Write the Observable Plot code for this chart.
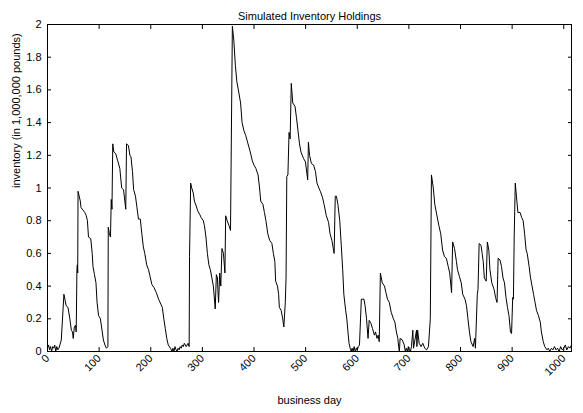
<!DOCTYPE html>
<html>
<head>
<meta charset="utf-8">
<script src="https://cdn.jsdelivr.net/npm/d3@7"></script>
<script src="https://cdn.jsdelivr.net/npm/@observablehq/plot@0.6"></script>
<style>
  html, body { margin: 0; padding: 0; background: #fff; }
</style>
</head>
<body>
<div id="chart"></div>
<script>
const title = "Simulated Inventory Holdings";
const xLabel = "business day";
const yLabel = "inventory (in 1,000,000 pounds)";
const xTicks = [0, 100, 200, 300, 400, 500, 600, 700, 800, 900, 1000];
const yTicks = [0, 0.2, 0.4, 0.6, 0.8, 1, 1.2, 1.4, 1.6, 1.8, 2];

const days = [
  0,2,4,6,8,10,12,14,16,18,20,22,24,26.7,31.8,36.1,39.7,43.3,46.2,48.4,49.8,52,54.2,55.6,57,57.8,58.5,59.2,
  61.4,63.5,65,70,72.2,75.1,77.3,79.4,83.8,86.6,88.1,91,93.9,96,98.9,102.5,104.7,108.3,111.2,114.1,117,117.7,
  119.9,122,123.5,124.9,126.4,128.5,132.1,135.7,140.1,143.7,147.3,151.6,153.1,156.7,159.6,161.7,164.6,166.8,
  170.4,173.3,176.2,179.8,182.7,185.6,188.4,192.1,195.7,198.6,202.2,206.5,210.8,215.2,219.5,222.4,225.3,228.2,
  231,233.9,238.3,241.2,243,245,247,249,251,253,255,257,259,261,263,265,268.6,272.2,274.4,275.1,277.3,279.4,
  282.3,284.5,288.1,291,294.6,297.5,301.8,304,306.9,309.7,312.6,315.5,318.4,321.3,324.9,327.1,329.2,330,331.4,
  333.6,335.7,337.9,340.8,343.7,345.1,348,351.6,354.5,358.1,361,363.9,366.8,369.7,374,376.9,380.5,384.1,388.4,
  392.8,396.4,400,403.6,407.9,410.8,413,417.3,420.2,423.1,426.7,430.3,434.7,437.5,440.4,441.9,445.5,447.7,449.1,
  452.7,455.6,457.8,460.6,462.1,463.5,465.7,467.9,470,472.2,475.1,479.4,482.3,485.2,488.1,491,496,499.6,504,
  505.4,507.6,511.2,515.5,519.1,522,525.6,528.5,532.9,535.7,540.1,544.4,547.3,550.9,555.2,557.4,559.6,562.5,
  566.1,569,571.8,574,577.6,579.8,582,584.1,586.3,588.4,590,592,594,596,598,600,602,604.3,607.9,613,615.2,618,
  620.9,623.1,626.7,629.6,633.2,635.4,638.3,640.4,642.6,644.8,648.4,652.7,655.6,658.5,662.1,665.7,670,672.9,
  675.8,678.7,680.1,681.6,683,687.4,691,693,695,697,699,701,703,705,707.6,709,714.8,715.5,717,719.9,723.5,727,
  730.7,734.3,737.9,741.5,743.7,747.3,750.2,753.8,758.1,761.7,765.3,768.9,772.6,776.2,779.1,782.7,784.8,788.4,
  792.1,794.2,797.8,801.4,804.3,808.7,811.6,814.4,817.3,820.2,824.5,827.4,828.9,832.5,833.9,836.1,839.7,841.9,
  844,846.2,849.8,852,854.9,857,860.6,865,867.9,870.8,872.9,876.5,879.4,882.3,885.2,888.1,891,893.9,896.8,898.9,
  901.1,902.5,904,906.1,908.3,911.2,915.5,918.4,921.3,924.2,927.1,929.2,932.9,935.7,938.6,941.5,944.4,947.3,
  950.9,954.5,956.7,960.3,963.2,967.5,970,973,976,979,982,985,988,991,994,997,1000,1003,1006,1009,1012,1015
];
const inventory = [
  0.02,0.04,0.01,0.03,0,0.03,0.02,0.04,0,0.03,0.01,0.02,0.04,0.07,0.35,0.28,0.27,0.2,0.13,0.12,0.08,0.15,0.16,0.12,0.5,0.53,0.48,0.98,
  0.95,0.92,0.88,0.86,0.85,0.83,0.8,0.7,0.69,0.6,0.52,0.47,0.42,0.3,0.22,0.2,0.15,0.07,0.04,0.02,0.03,0.76,
  0.72,0.7,0.93,0.87,1.27,1.22,1.21,1.17,1.12,1.0,0.99,0.87,1.27,1.26,1.2,1.19,1.1,0.99,
  0.95,0.88,0.81,0.81,0.72,0.64,0.6,0.53,0.5,0.46,0.41,0.39,0.36,0.32,0.29,0.27,0.2,0.14,
  0.08,0.04,0.02,0,0.02,0,0.03,0.01,0,0.02,0.01,0.03,0.02,0.04,0.03,0.05,0.03,0.05,0.03,0.58,1.03,1.0,
  0.97,0.92,0.89,0.86,0.84,0.82,0.8,0.77,0.7,0.6,0.53,0.5,0.45,0.4,0.26,0.47,0.45,0.38,0.3,
  0.48,0.4,0.63,0.6,0.48,0.83,0.8,0.77,0.74,1.99,1.9,1.75,1.65,1.6,1.52,1.4,1.35,1.32,1.27,
  1.22,1.17,1.14,1.12,1.08,1.0,0.92,0.9,0.85,0.8,0.72,0.68,0.66,0.6,0.55,0.43,0.4,0.35,0.27,
  0.25,0.2,0.15,0.3,0.45,1.07,1.08,1.34,1.3,1.64,1.52,1.5,1.43,1.35,1.27,1.22,1.18,1.16,1.05,
  1.28,1.2,1.15,1.14,1.1,1.03,1.0,0.98,0.94,0.9,0.83,0.79,0.72,0.68,0.6,0.95,0.95,0.9,
  0.8,0.65,0.5,0.35,0.25,0.2,0.12,0.05,0.02,0,0.02,0,0.03,0,0.02,0.01,0.03,0.04,0.32,0.32,0.28,0.2,
  0.08,0.19,0.17,0.14,0.1,0.12,0.08,0.1,0.06,0.48,0.42,0.4,0.36,0.32,0.3,0.24,0.2,0.18,
  0.12,0.08,0.03,0,0.08,0.07,0.04,0,0.02,0,0.03,0.01,0,0.03,0.13,0.02,0.13,0.03,0.13,0.05,0.03,0.05,
  0.02,0.01,0.03,0.2,1.08,1.0,0.9,0.84,0.77,0.72,0.62,0.58,0.57,0.52,0.48,0.36,0.67,0.63,
  0.55,0.5,0.46,0.42,0.35,0.32,0.28,0.2,0.12,0.06,0.03,0.08,0.02,0.35,0.38,0.66,0.65,0.6,
  0.55,0.45,0.43,0.67,0.62,0.5,0.42,0.38,0.33,0.3,0.57,0.56,0.52,0.45,0.42,0.33,0.27,0.22,0.12,0.11,
  0.33,0.32,0.7,1.03,0.95,0.85,0.85,0.82,0.8,0.72,0.62,0.6,0.52,0.45,0.4,0.35,0.3,0.25,
  0.22,0.18,0.12,0.06,0.03,0.01,0.02,0,0.02,0.01,0.03,0.01,0.02,0,0.03,0.01,0.02,0.04,0.01,0.03,0.02,0.04
];

const data = days.map((d, i) => ({day: d, value: inventory[i]}));
const fmtY = d => String(+d.toFixed(1));

const chart = Plot.plot({
  width: 583,
  height: 413,
  marginLeft: 47,
  marginRight: 12,
  marginTop: 24,
  marginBottom: 62,
  style: {fontFamily: "'Liberation Sans', Arial, sans-serif", fontSize: "11px", color: "#000", background: "#fff"},
  x: {domain: [0, 1015], label: null},
  y: {domain: [0, 2], label: null},
  marks: [
    Plot.line(data, {x: "day", y: "value", stroke: "#000", strokeWidth: 1}),
    Plot.frame({stroke: "#000", strokeWidth: 1}),
    Plot.axisX({anchor: "bottom", ticks: xTicks, tickSize: -4, tickFormat: () => "", label: null}),
    Plot.axisX({anchor: "top", ticks: xTicks, tickSize: -4, tickFormat: () => "", label: null}),
    Plot.axisY({anchor: "left", ticks: yTicks, tickSize: -4, tickFormat: () => "", label: null}),
    Plot.axisY({anchor: "right", ticks: yTicks, tickSize: -4, tickFormat: () => "", label: null}),
    Plot.axisX({anchor: "bottom", ticks: xTicks, tickSize: 0, tickPadding: 5, tickRotate: -45, tickFormat: d => String(d), label: null}),
    Plot.axisY({anchor: "left", ticks: yTicks, tickSize: 0, tickPadding: 6, tickFormat: fmtY, label: null}),
    Plot.text([title], {frameAnchor: "top", dy: -12, fill: "#000"}),
    Plot.text([xLabel], {frameAnchor: "bottom", dy: 52, fill: "#000"}),
    Plot.text([yLabel], {frameAnchor: "left", dx: -31, rotate: -90, fill: "#000"})
  ]
});
document.getElementById("chart").appendChild(chart);
</script>
</body>
</html>
